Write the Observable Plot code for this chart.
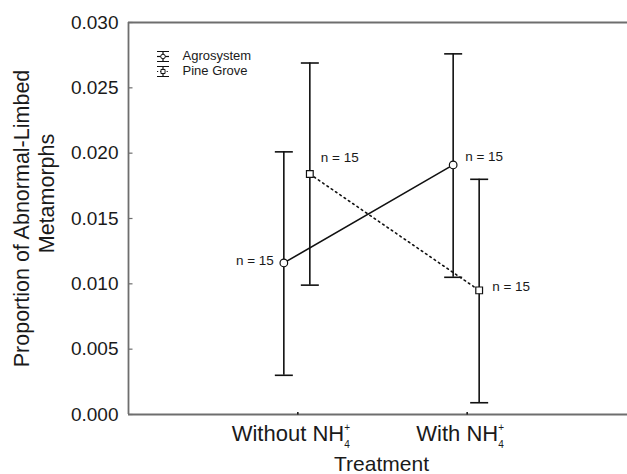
<!DOCTYPE html>
<html><head><meta charset="utf-8">
<script src="https://cdn.jsdelivr.net/npm/d3@7"></script>
<script src="https://cdn.jsdelivr.net/npm/@observablehq/plot@0.6"></script>
<style>
body{margin:0;background:#fff;}
#chart{width:627px;height:474px;overflow:hidden;}
svg{overflow:hidden;}
</style>
</head><body><div id="chart"></div>
<script>
// ---------- data ----------
const categories = ["Without", "With"];
const categoryPos = [1, 2];
const tickLabels = ["Without NH", "With NH"];
const ionSub = "4";
const ionSup = "+";
const seriesNames = ["Agrosystem", "Pine Grove"];
const agroMean = [0.0116, 0.0191];
const agroLow  = [0.0030, 0.0105];
const agroHigh = [0.0201, 0.0276];
const pineMean = [0.0184, 0.0095];
const pineLow  = [0.0099, 0.0009];
const pineHigh = [0.0269, 0.0180];
const nCounts  = [15, 15];
const yTicks = [0, 0.005, 0.010, 0.015, 0.020, 0.025, 0.030];
const yTitle = ["Proportion of Abnormal-Limbed", "Metamorphs"];
const xTitle = "Treatment";

const agro = categories.map((c, i) => ({cat: c, x: categoryPos[i], mean: agroMean[i], lo: agroLow[i], hi: agroHigh[i], n: nCounts[i]}));
const pine = categories.map((c, i) => ({cat: c, x: categoryPos[i], mean: pineMean[i], lo: pineLow[i], hi: pineHigh[i], n: nCounts[i]}));

// ---------- custom symbols ----------
const rad = s => Math.sqrt(s / Math.PI);
const hLine = {draw(ctx, s){const r = rad(s); ctx.moveTo(-r, 0); ctx.lineTo(r, 0);}};
const hRight = {draw(ctx, s){const r = rad(s); ctx.moveTo(0, 0); ctx.lineTo(r, 0);}};
const vUp = {draw(ctx, s){const r = rad(s); ctx.moveTo(0, 0); ctx.lineTo(0, -r);}};
const legendBar = {draw(ctx, s){const r = rad(s); const w = r * 1.2;
  ctx.moveTo(0, -r); ctx.lineTo(0, r);
  ctx.moveTo(-w, -r); ctx.lineTo(w, -r);
  ctx.moveTo(-w, r); ctx.lineTo(w, r);}};

const INK = "#111";
const FRAME = "#6e6e6e";
const TXT = "#1a1a1a";
const AG_DX = -14, PG_DX = 12;

function errorMarks(data, dx) {
  return [
    Plot.ruleX(data, {x: "x", y1: "lo", y2: "hi", dx, stroke: INK, strokeWidth: 1.6}),
    Plot.dot(data, {x: "x", y: "lo", dx, symbol: hLine, r: 9, fill: "none", stroke: INK, strokeWidth: 1.6}),
    Plot.dot(data, {x: "x", y: "hi", dx, symbol: hLine, r: 9, fill: "none", stroke: INK, strokeWidth: 1.6})
  ];
}

function legendEntry(name, symbol, dash, dy) {
  return [
    Plot.dot([0], {frameAnchor: "top-left", dx: 34.5, dy, symbol: legendBar, r: 5, fill: "none", stroke: INK, strokeWidth: 1.2}),
    Plot.dot([0], {frameAnchor: "top-left", dx: 34.5, dy, symbol: hLine, r: 6, fill: "none", stroke: INK, strokeWidth: 1.2, strokeDasharray: dash}),
    Plot.dot([0], {frameAnchor: "top-left", dx: 34.5, dy, symbol, r: 2.3, fill: "#fff", stroke: INK, strokeWidth: 1}),
    Plot.text([name], {text: d => d, frameAnchor: "top-left", dx: 54, dy: dy - 1, textAnchor: "start", lineAnchor: "middle", fontSize: 13, fill: TXT})
  ];
}

const chart = Plot.plot({
  width: 627,
  height: 474,
  marginLeft: 128,
  marginRight: 0,
  marginTop: 22,
  marginBottom: 60,
  style: {fontFamily: "'Liberation Sans', Arial, sans-serif", background: "#fff", color: TXT},
  x: {type: "linear", domain: [0, 3], range: [128, 636]},
  y: {domain: [0, 0.03]},
  marks: [
    // frame
    Plot.ruleX([0], {x: d => d, y1: 0, y2: 0.03, stroke: FRAME, strokeWidth: 1.8}),
    Plot.ruleY([0, 0.03], {y: d => d, x1: 0, x2: 3, stroke: FRAME, strokeWidth: 1.8}),
    // inward ticks
    Plot.dot(yTicks, {x: 0, y: d => d, symbol: hRight, r: 4, fill: "none", stroke: FRAME, strokeWidth: 1.2}),
    Plot.dot(categoryPos, {x: d => d, y: 0, symbol: vUp, r: 2.5, fill: "none", stroke: INK, strokeWidth: 1.5}),
    // axes
    Plot.axisY(yTicks, {tickSize: 0, tickPadding: 10, tickFormat: d3.format(".3f"), fontSize: 19, fill: TXT, label: null}),
    Plot.axisX(categoryPos, {tickSize: 0, tickPadding: 11, tickFormat: d => tickLabels[categoryPos.indexOf(d)], fontSize: 22, dx: -7, fill: TXT, label: null}),
    // axis titles
    Plot.text([yTitle[0]], {text: d => d, frameAnchor: "left", rotate: -90, dx: -106, dy: 0, fontSize: 21.5, fill: TXT, textAnchor: "middle", lineAnchor: "middle"}),
    Plot.text([yTitle[1]], {text: d => d, frameAnchor: "left", rotate: -90, dx: -81, dy: -25, fontSize: 21.5, fill: TXT, textAnchor: "middle", lineAnchor: "middle"}),
    Plot.text([xTitle], {text: d => d, frameAnchor: "bottom", dx: 3.5, dy: 50, fontSize: 21, fill: TXT, lineAnchor: "middle"}),
    // error bars
    ...errorMarks(agro, AG_DX),
    ...errorMarks(pine, PG_DX),
    // connecting lines
    Plot.line(agro, {x: "x", y: "mean", dx: AG_DX, stroke: INK, strokeWidth: 1.6}),
    Plot.line(pine, {x: "x", y: "mean", dx: PG_DX, stroke: INK, strokeWidth: 1.6, strokeDasharray: "1.6,3.6"}),
    // means
    Plot.dot(agro, {x: "x", y: "mean", dx: AG_DX, symbol: "circle", r: 3.8, fill: "#fff", stroke: INK, strokeWidth: 1.2}),
    Plot.dot(pine, {x: "x", y: "mean", dx: PG_DX, symbol: "square", r: 3.8, fill: "#fff", stroke: INK, strokeWidth: 1.2}),
    // n labels
    Plot.text([agro[0]], {x: "x", y: "mean", text: d => `n = ${d.n}`, dx: -24, dy: -2, textAnchor: "end", fontSize: 13.5, fill: TXT}),
    Plot.text([pine[0]], {x: "x", y: "mean", text: d => `n = ${d.n}`, dx: 23, dy: -16, textAnchor: "start", fontSize: 13.5, fill: TXT}),
    Plot.text([agro[1]], {x: "x", y: "mean", text: d => `n = ${d.n}`, dx: -2, dy: -8, textAnchor: "start", fontSize: 13.5, fill: TXT}),
    Plot.text([pine[1]], {x: "x", y: "mean", text: d => `n = ${d.n}`, dx: 25, dy: -4, textAnchor: "start", fontSize: 13.5, fill: TXT}),
    // legend
    ...legendEntry(seriesNames[0], "circle", null, 34),
    ...legendEntry(seriesNames[1], "square", "1.2,2", 49)
  ]
});

document.getElementById("chart").appendChild(chart);

// NH4+ with stacked subscript / superscript
const svg = d3.select(chart);
svg.selectAll("text").filter(function(){ return tickLabels.includes(this.textContent); }).each(function(){
  const t = d3.select(this);
  t.append("tspan").attr("dy", 7).attr("font-size", 10).text(ionSub);
  t.append("tspan").attr("dx", -5.6).attr("dy", -17).attr("font-size", 10).text(ionSup);
});
</script>
</body></html>
